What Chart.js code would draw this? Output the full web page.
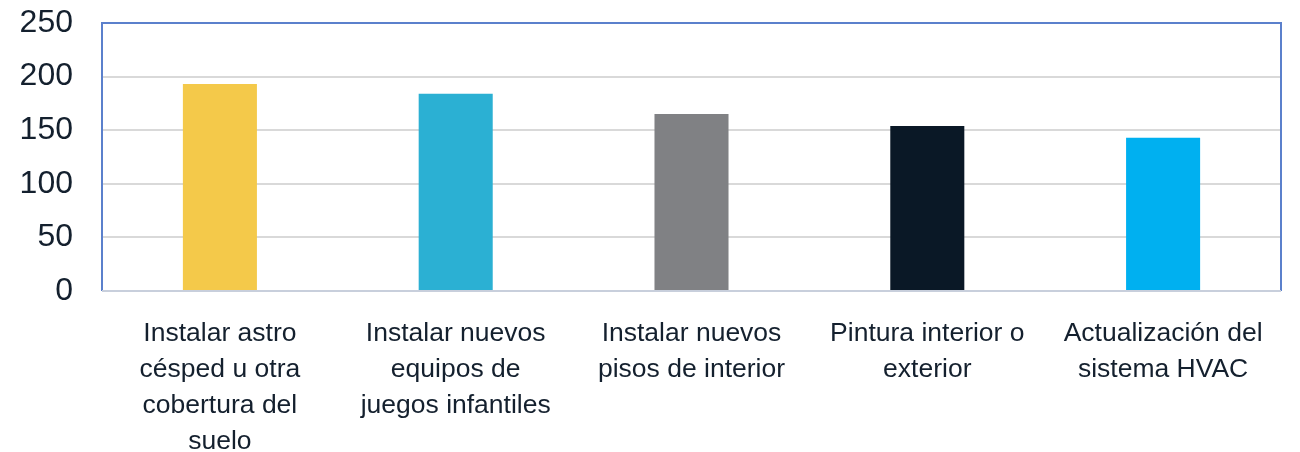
<!DOCTYPE html>
<html>
<head>
<meta charset="utf-8">
<script src="https://cdn.jsdelivr.net/npm/chart.js@4.4.0/dist/chart.umd.min.js"></script>
<style>
  html, body { margin: 0; padding: 0; background: #fff; }
  #wrap { width: 1300px; height: 452px; }
</style>
</head>
<body>
<div id="wrap"><canvas id="myChart" width="1300" height="452"></canvas></div>
<script>
// data
const labels = [
    ['Instalar astro', 'césped u otra', 'cobertura del', 'suelo'],
    ['Instalar nuevos', 'equipos de', 'juegos infantiles'],
    ['Instalar nuevos', 'pisos de interior'],
    ['Pintura interior o', 'exterior'],
    ['Actualización del', 'sistema HVAC'],
];
const values = [193, 184, 165, 154, 143];
const barColors = ['#F4C94A', '#2BB0D3', '#808184', '#0A1826', '#00B0F0'];
const yTicks = [0, 50, 100, 150, 200, 250];

const textColor = '#14202E';

// frame round the plot area
const framePlugin = {
    id: 'frame',
    afterDatasetsDraw(chart) {
        const a = chart.chartArea;
        const c = chart.ctx;
        c.save();
        c.lineWidth = 2;
        c.strokeStyle = '#5B80CC';
        c.beginPath();
        c.moveTo(a.left, a.bottom);
        c.lineTo(a.left, a.top);
        c.lineTo(a.right, a.top);
        c.lineTo(a.right, a.bottom);
        c.stroke();
        c.strokeStyle = '#C8CFDC';
        c.beginPath();
        c.moveTo(a.left, a.bottom);
        c.lineTo(a.right, a.bottom);
        c.stroke();
        c.restore();
    }
};

const ctx = document.getElementById('myChart').getContext('2d');

const config = {
    type: 'bar',
    data: {
        labels,
        datasets: [{
            data: values,
            backgroundColor: barColors,
            borderWidth: 0,
            barPercentage: 0.314,
            categoryPercentage: 1
        }]
    },
    options: {
        responsive: false,
        animation: false,
        layout: { padding: { top: 23, right: 19, left: 0, bottom: 0 } },
        plugins: {
            legend: { display: false },
            tooltip: { enabled: false }
        },
        scales: {
            x: {
                grid: { display: false },
                border: { display: false },
                ticks: {
                    color: textColor,
                    font: { family: 'Arial, "Liberation Sans", sans-serif', size: 26.5 },
                    padding: 17,
                    maxRotation: 0,
                    autoSkip: false
                },
                afterFit(scale) {
                    scale.height = 161;
                    scale.paddingLeft = 0;
                    scale.paddingRight = 0;
                }
            },
            y: {
                min: 0,
                max: 250,
                afterBuildTicks(scale) {
                    scale.ticks = yTicks.map(v => ({ value: v }));
                },
                grid: {
                    color: '#D9D9D9',
                    lineWidth: 2,
                    drawTicks: false
                },
                border: { display: false },
                ticks: {
                    color: textColor,
                    font: { family: 'Arial, "Liberation Sans", sans-serif', size: 32 },
                    padding: 29
                },
                afterFit(scale) {
                    scale.width = 102;
                    scale.paddingTop = 0;
                    scale.paddingBottom = 0;
                }
            }
        }
    },
    plugins: [framePlugin]
};

// line spacing of the category labels
config.options.scales.x.ticks.font.lineHeight = 36 / 26.5;

const myChart = new Chart(ctx, config);
</script>
</body>
</html>
